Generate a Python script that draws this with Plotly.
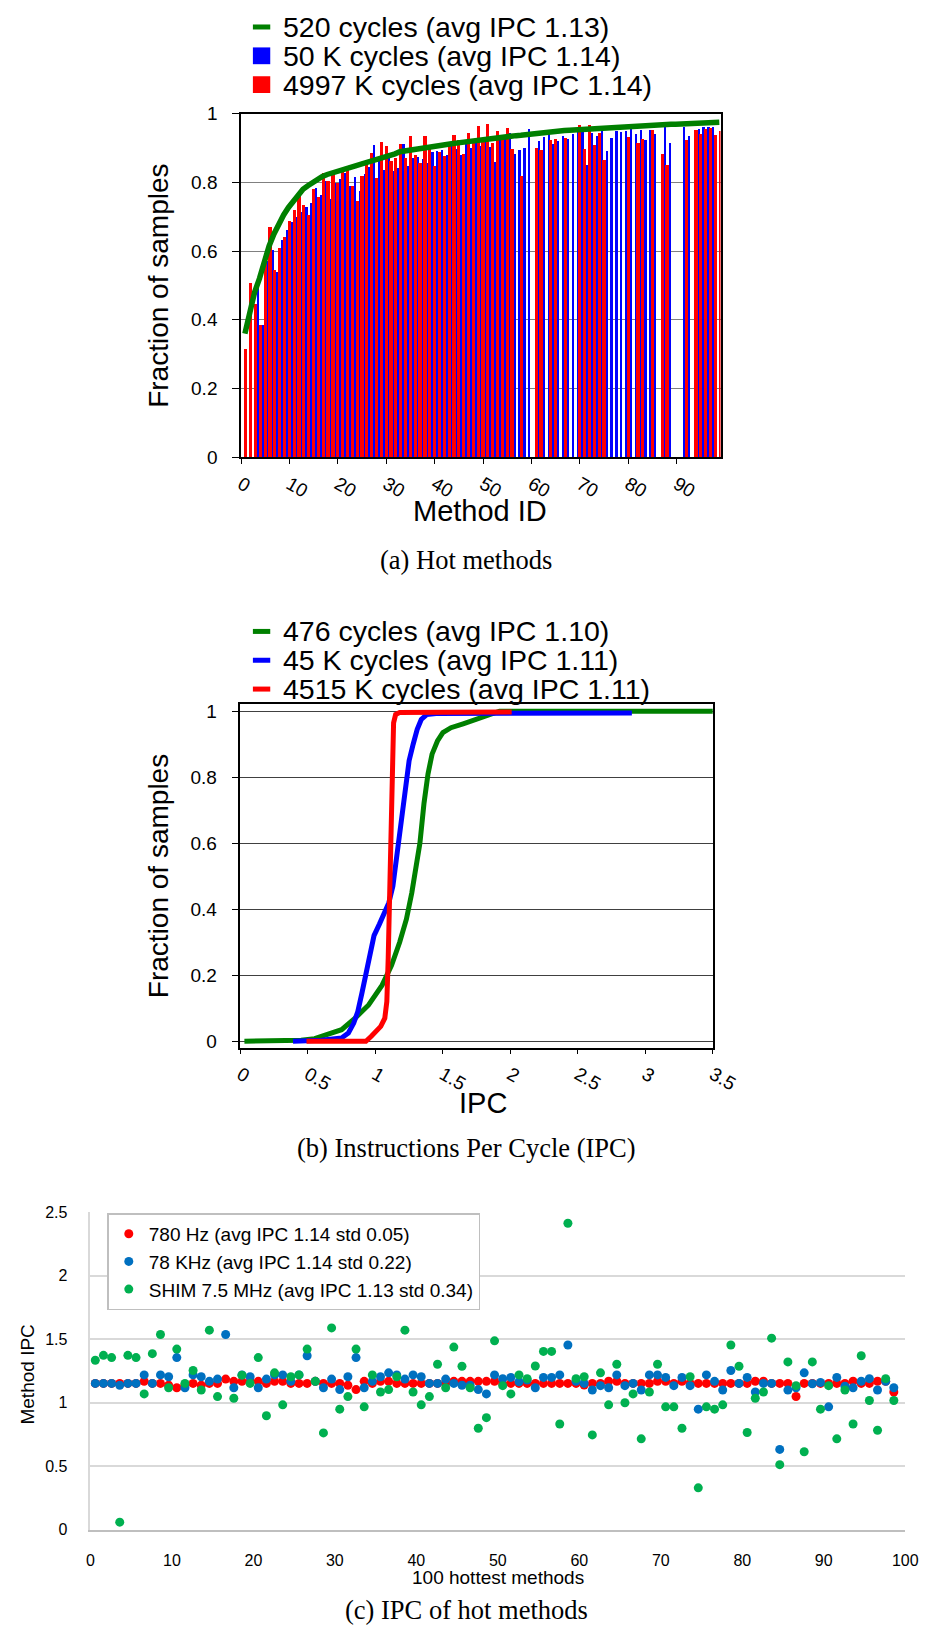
import plotly.graph_objects as go

# ---------------- (a) Hot methods ----------------
method_ids = list(range(99))
green_a = [0.36, 0.42, 0.48, 0.52, 0.57, 0.615, 0.65, 0.68, 0.705, 0.727,
           0.745, 0.767, 0.78, 0.79, 0.80, 0.81, 0.817, 0.823, 0.828, 0.833,
           0.837, 0.841, 0.845, 0.849, 0.853, 0.857, 0.862, 0.866, 0.871, 0.875,
           0.879, 0.883, 0.889, 0.892, 0.894, 0.896, 0.898, 0.90, 0.902, 0.905,
           0.907, 0.909, 0.911, 0.913, 0.915, 0.917, 0.919, 0.921, 0.923, 0.925,
           0.926, 0.928, 0.93, 0.931, 0.933, 0.934, 0.936, 0.937, 0.939, 0.94,
           0.942, 0.943, 0.945, 0.946, 0.948, 0.95, 0.951, 0.952, 0.953, 0.954,
           0.955, 0.956, 0.957, 0.958, 0.958, 0.959, 0.96, 0.961, 0.962, 0.962,
           0.963, 0.964, 0.965, 0.965, 0.966, 0.967, 0.967, 0.968, 0.969, 0.969,
           0.97, 0.971, 0.971, 0.972, 0.972, 0.973, 0.973, 0.974, 0.975]
blue_a = [None, None, None, 0.504, 0.385, 0.573, 0.605, 0.540, 0.634, 0.663,
          0.687, 0.701, 0.716, 0.730, 0.741, 0.784, 0.764, 0.805, 0.754, 0.800,
          0.811, 0.829, 0.790, 0.818, 0.775, 0.824, 0.846, 0.909, 0.864, 0.837,
          0.873, 0.834, 0.842, 0.914, 0.850, 0.871, 0.876, 0.868, 0.856, 0.888,
          0.891, 0.894, 0.882, 0.914, 0.899, 0.880, 0.919, 0.902, 0.923, 0.906,
          0.931, 0.905, 0.861, 0.931, 0.932, 0.945, 0.885, 0.896, 0.900, 0.956,
          None, 0.920, 0.934, 0.941, 0.912, 0.920, 0.936, 0.928, 0.943, 0.947,
          0.957, 0.852, 0.946, 0.937, 0.955, 0.893, 0.931, 0.951, 0.947, 0.950,
          0.959, 0.941, 0.952, 0.924, 0.954, 0.943, None, 0.962, 0.917, None,
          None, 0.962, 0.935, None, 0.957, 0.962, 0.962, 0.962, None]
red_a = [0.316, 0.507, 0.446, 0.385, 0.578, 0.670, 0.545, 0.610, 0.641, 0.689,
         0.722, 0.770, 0.734, 0.705, 0.781, 0.759, 0.829, 0.805, 0.833, 0.800,
         0.839, 0.844, 0.790, 0.747, 0.819, 0.860, 0.886, 0.813, 0.919, 0.908,
         0.864, 0.871, 0.912, 0.873, 0.936, 0.880, 0.856, 0.937, 0.906, 0.849,
         0.890, 0.877, 0.906, 0.940, 0.923, 0.883, 0.945, 0.922, 0.964, 0.930,
         0.971, 0.916, 0.950, 0.933, 0.960, 0.899, None, 0.820, None, None,
         0.902, 0.895, None, 0.924, 0.928, None, 0.930, None, None, 0.967,
         0.897, 0.968, 0.911, 0.945, 0.867, None, None, None, None, 0.934,
         None, 0.915, 0.927, None, 0.954, None, 0.884, 0.851, None, None,
         None, 0.925, None, 0.952, 0.942, 0.957, 0.958, 0.940, 0.951]
legend_a = ["520 cycles (avg IPC 1.13)", "50 K cycles (avg IPC 1.14)",
            "4997 K cycles (avg IPC 1.14)"]
xticks_a = list(range(0, 100, 10))

# ---------------- (b) IPC distribution ----------------
ipc_g_x = [0.03, 0.45, 0.55, 0.65, 0.75, 0.85, 0.95, 1.05, 1.12, 1.18, 1.23, 1.27,
           1.30, 1.33, 1.36, 1.39, 1.42, 1.46, 1.50, 1.56, 1.65, 1.75, 1.85, 1.92,
           2.5, 3.0, 3.5]
ipc_g_y = [0.0, 0.003, 0.008, 0.02, 0.035, 0.07, 0.11, 0.17, 0.23, 0.30, 0.37, 0.45,
           0.52, 0.60, 0.72, 0.81, 0.87, 0.91, 0.935, 0.95, 0.962, 0.975, 0.99, 1.0,
           1.0, 1.0, 1.0]
ipc_b_x = [0.39, 0.6, 0.75, 0.80, 0.84, 0.87, 0.90, 0.93, 0.96, 0.99, 1.03, 1.07,
           1.10, 1.13, 1.16, 1.19, 1.22, 1.25, 1.28, 1.31, 1.34, 1.38, 1.45, 2.0, 2.9]
ipc_b_y = [0.0, 0.003, 0.01, 0.025, 0.055, 0.09, 0.145, 0.21, 0.27, 0.32, 0.355, 0.39,
           0.42, 0.47, 0.56, 0.66, 0.76, 0.85, 0.90, 0.945, 0.975, 0.99, 0.993, 0.995, 0.995]
ipc_r_x = [0.49, 0.93, 0.97, 1.00, 1.04, 1.07, 1.085, 1.095, 1.105, 1.115, 1.125,
           1.135, 1.15, 1.18, 1.5, 2.01]
ipc_r_y = [0.0, 0.0, 0.015, 0.03, 0.045, 0.07, 0.12, 0.25, 0.46, 0.72, 0.9,
           0.965, 0.99, 0.996, 0.997, 0.998]
legend_b = ["476 cycles (avg IPC 1.10)", "45 K cycles (avg IPC 1.11)",
            "4515 K cycles (avg IPC 1.11)"]
xticks_b = [0, 0.5, 1, 1.5, 2, 2.5, 3, 3.5]
ticks_frac = [0, 0.2, 0.4, 0.6, 0.8, 1]

# ---------------- (c) IPC of hot methods ----------------
hot_idx = list(range(99))
ipc_780hz = [1.153, 1.153, 1.153, 1.153, 1.153, 1.153, 1.169, 1.153, 1.153, 1.138,
             1.119, 1.138, 1.153, 1.138, 1.153, 1.153, 1.187, 1.169, 1.169, 1.169,
             1.169, 1.153, 1.169, 1.169, 1.153, 1.153, 1.153, 1.169, 1.153, 1.153,
             1.153, 1.138, 1.104, 1.169, 1.153, 1.169, 1.169, 1.153, 1.153, 1.153,
             1.153, 1.153, 1.153, 1.153, 1.169, 1.169, 1.169, 1.169, 1.169, 1.17,
             1.15, 1.153, 1.153, 1.153, 1.153, 1.153, 1.153, 1.153, 1.153, 1.153,
             1.14, 1.153, 1.153, 1.17, 1.17, 1.153, 1.153, 1.153, 1.153, 1.17,
             1.17, 1.153, 1.17, 1.153, 1.153, 1.153, 1.153, 1.153, 1.153, 1.153,
             1.153, 1.17, 1.17, 1.153, 1.153, 1.153, 1.05, 1.153, 1.153, 1.153,
             1.153, 1.153, 1.153, 1.17, 1.153, 1.153, 1.17, 1.17, 1.085]
ipc_78khz = [1.153, 1.153, 1.153, 1.138, 1.153, 1.153, 1.22, 1.153, 1.22, 1.205,
             1.356, 1.119, 1.22, 1.205, 1.169, 1.187, 1.538, 1.119, 1.22, 1.205,
             1.119, 1.187, 1.22, 1.22, 1.169, 1.22, 1.371, 1.169, 1.119, 1.187,
             1.104, 1.205, 1.356, 1.119, 1.169, 1.205, 1.236, 1.22, 1.187, 1.22,
             1.205, 1.153, 1.153, 1.187, 1.153, 1.138, 1.138, 1.104, 1.07, 1.22,
             1.19, 1.2, 1.166, 1.18, 1.119, 1.2, 1.2, 1.22, 1.455, 1.17,
             1.153, 1.101, 1.135, 1.119, 1.22, 1.135, 1.153, 1.101, 1.22, 1.22,
             1.2, 1.135, 1.2, 1.135, 0.95, 1.22, 1.169, 1.101, 1.254, 1.153,
             1.2, 1.085, 1.153, 1.153, 0.633, 1.10, 1.119, 1.236, 1.15, 1.16,
             0.968, 1.2, 1.13, 1.119, 1.17, 1.19, 1.101, 1.17, 1.119]
ipc_shim = [1.335, 1.374, 1.356, 0.06, 1.374, 1.356, 1.07, 1.387, 1.538, 1.119,
            1.423, 1.153, 1.254, 1.101, 1.572, 1.049, 1.772, 1.036, 1.218, 1.153,
            1.356, 0.898, 1.236, 0.984, 1.205, 1.22, 1.423, 1.169, 0.763, 1.59,
            0.95, 1.049, 1.423, 0.968, 1.22, 1.085, 1.104, 1.205, 1.572, 1.085,
            0.984, 1.049, 1.304, 1.119, 1.439, 1.288, 1.119, 0.80, 0.883, 1.488,
            1.135, 1.07, 1.22, 1.19, 1.29, 1.405, 1.405, 0.833, 2.414, 1.19,
            1.205, 0.747, 1.236, 0.984, 1.304, 1.0, 1.07, 0.716, 1.085, 1.304,
            0.968, 0.968, 0.80, 1.205, 0.33, 0.968, 0.95, 0.984, 1.455, 1.288,
            0.766, 1.036, 1.085, 1.509, 0.513, 1.322, 1.135, 0.614, 1.322, 0.95,
            1.135, 0.716, 1.101, 0.833, 1.371, 1.018, 0.784, 1.19, 1.018]
legend_c = ["780 Hz (avg IPC 1.14 std 0.05)", "78 KHz (avg IPC 1.14 std 0.22)",
            "SHIM 7.5 MHz (avg IPC 1.13 std 0.34)"]

# ---------------- figure ----------------
W, H = 952, 1637
def px(x):
    return x / W
def py(y):
    return 1 - y / H

SANS = "Liberation Sans"
SERIF = "Liberation Serif"
GREEN, BLUE, RED = "#008000", "#0000FF", "#FF0000"

fig = go.Figure()

# (a)
fig.add_trace(go.Bar(x=method_ids, y=blue_a, offset=0.32, width=0.46,
                     marker=dict(color=BLUE, line=dict(width=0)),
                     name=legend_a[1], showlegend=False, xaxis="x", yaxis="y"))
fig.add_trace(go.Bar(x=method_ids, y=red_a, offset=0.66, width=0.66,
                     marker=dict(color=RED, line=dict(width=0)),
                     name=legend_a[2], showlegend=False, xaxis="x", yaxis="y"))
fig.add_trace(go.Scatter(x=[m + 0.8 for m in method_ids], y=green_a, mode="lines",
                         line=dict(color=GREEN, width=5.5), name=legend_a[0],
                         showlegend=False, xaxis="x", yaxis="y"))

# (b)
fig.add_trace(go.Scatter(x=ipc_g_x, y=ipc_g_y, mode="lines", line=dict(color=GREEN, width=5),
                         name=legend_b[0], showlegend=False, xaxis="x2", yaxis="y2"))
fig.add_trace(go.Scatter(x=ipc_b_x, y=ipc_b_y, mode="lines", line=dict(color=BLUE, width=5),
                         name=legend_b[1], showlegend=False, xaxis="x2", yaxis="y2"))
fig.add_trace(go.Scatter(x=ipc_r_x, y=ipc_r_y, mode="lines", line=dict(color=RED, width=5),
                         name=legend_b[2], showlegend=False, xaxis="x2", yaxis="y2"))

# (c)
xc = [i + 0.6 for i in hot_idx]
for vals, col, nm in [(ipc_780hz, "#FF0000", legend_c[0]),
                      (ipc_78khz, "#0070C0", legend_c[1]),
                      (ipc_shim, "#00B050", legend_c[2])]:
    fig.add_trace(go.Scatter(x=xc, y=vals, mode="markers",
                             marker=dict(color=col, size=9, line=dict(width=0)),
                             name=nm, showlegend=True, xaxis="x3", yaxis="y3"))

tf_a = dict(family=SANS, size=19, color="black")

fig.update_layout(
    width=W, height=H, margin=dict(l=0, r=0, t=0, b=0),
    paper_bgcolor="white", plot_bgcolor="white", barmode="overlay", bargap=0,
    showlegend=True,
    legend=dict(x=px(104), y=py(1219), xanchor="left", yanchor="top",
                bgcolor="white", bordercolor="#BFBFBF", borderwidth=1.5,
                font=dict(family=SANS, size=19, color="black"), itemwidth=30,
                tracegroupgap=0),
    xaxis=dict(domain=[px(242.7), px(740)], range=[0, 99.06], anchor="y",
               tickvals=xticks_a, ticks="outside", ticklen=5, tickcolor="black",
               tickangle=30, showline=True, linecolor="black", linewidth=1.5,
               mirror=True, showgrid=False, zeroline=False, tickfont=tf_a,
               ticklabelstandoff=2),
    yaxis=dict(domain=[py(453), py(105)], range=[0, 1], anchor="x",
               tickvals=ticks_frac, ticks="outside", ticklen=7, tickcolor="black",
               showline=True, linecolor="black", linewidth=1.5, mirror=True,
               showgrid=True, gridcolor="#808080", gridwidth=1.3, zeroline=False,
               tickfont=tf_a, ticklabelstandoff=11),
    xaxis2=dict(domain=[px(242), px(732)], range=[0, 3.5], anchor="y2",
                tickvals=xticks_b, ticks="outside", ticklen=5, tickcolor="black",
                tickangle=30, showline=True, linecolor="black", linewidth=1.5,
                mirror=True, showgrid=False, zeroline=False, tickfont=tf_a,
                ticklabelstandoff=2),
    yaxis2=dict(domain=[py(1051), py(703)], range=[-0.019, 1.022], anchor="x2",
                tickvals=ticks_frac, ticks="outside", ticklen=7, tickcolor="black",
                showline=True, linecolor="black", linewidth=1.5, mirror=True,
                showgrid=True, gridcolor="#404040", gridwidth=1.3, zeroline=False,
                tickfont=tf_a, ticklabelstandoff=11),
    xaxis3=dict(domain=[px(86.5), px(931.5)], range=[0, 100], anchor="y3",
                tick0=0, dtick=10, ticks="", showline=True, linecolor="#BFBFBF",
                linewidth=1.5, showgrid=False, zeroline=False,
                tickfont=dict(family=SANS, size=16, color="black"),
                ticklabelstandoff=15),
    yaxis3=dict(domain=[py(1539.5), py(1218)], range=[0, 2.5], anchor="x3",
                tick0=0, dtick=0.5, ticks="", showline=True, linecolor="#D9D9D9",
                linewidth=1.5, showgrid=True, gridcolor="#D9D9D9", gridwidth=1.5,
                zeroline=False, tickfont=dict(family=SANS, size=16, color="black"),
                ticklabelstandoff=18),
)

ann = []
shapes = []

def text(x, y, s, size, family=SANS, angle=0, xanchor="center"):
    ann.append(dict(x=px(x), y=py(y), xref="paper", yref="paper", text=s,
                    showarrow=False, textangle=angle, xanchor=xanchor,
                    yanchor="middle", font=dict(family=family, size=size, color="black")))

# legend (a)
rows_a = [17.2, 46.4, 75.6]
shapes.append(dict(type="line", xref="paper", yref="paper", x0=px(255), x1=px(273),
                   y0=py(rows_a[0]), y1=py(rows_a[0]), line=dict(color=GREEN, width=5)))
for yy, col in [(rows_a[1], BLUE), (rows_a[2], RED)]:
    shapes.append(dict(type="rect", xref="paper", yref="paper", x0=px(255), x1=px(273),
                       y0=py(yy + 8.5), y1=py(yy - 8.5), fillcolor=col,
                       line=dict(width=0)))
for yy, s in zip(rows_a, legend_a):
    text(284, yy, s, 28.5, xanchor="left")

# legend (b)
rows_b = [629.5, 658.7, 687.9]
for yy, col in zip(rows_b, [GREEN, BLUE, RED]):
    shapes.append(dict(type="line", xref="paper", yref="paper", x0=px(255), x1=px(273),
                       y0=py(yy), y1=py(yy), line=dict(color=col, width=5)))
for yy, s in zip(rows_b, legend_b):
    text(284, yy, s, 28.5, xanchor="left")

# axis titles
text(157, 279, "Fraction of samples", 28, angle=-90)
text(491, 508, "Method ID", 29)
text(157, 877, "Fraction of samples", 28, angle=-90)
text(494, 1107, "IPC", 29)
text(21, 1382, "Method IPC", 19, angle=-90)
text(509, 1588, "100 hottest methods", 19)

# captions
text(476, 557, "(a) Hot methods", 26.5, family=SERIF)
text(476, 1153, "(b) Instructions Per Cycle (IPC)", 26.5, family=SERIF)
text(476, 1621, "(c) IPC of hot methods", 26.5, family=SERIF)

fig.update_layout(annotations=ann, shapes=shapes)
fig.write_html("out.html")
